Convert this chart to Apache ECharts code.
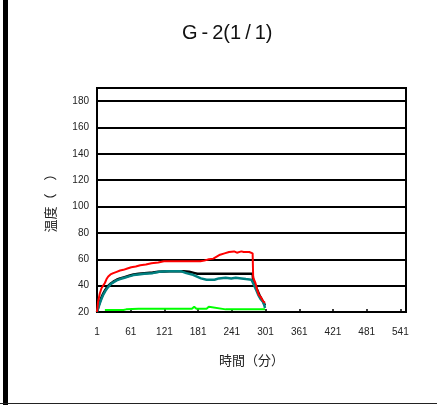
<!DOCTYPE html>
<html>
<head>
<meta charset="utf-8">
<script src="https://cdn.jsdelivr.net/npm/echarts@6/dist/echarts.min.js"></script>
<style>
html,body{margin:0;padding:0;background:#fff;}
#chart{width:437px;height:405px;}
</style>
</head>
<body>
<div id="chart"></div>
<script>
// Data (time in minutes, temperature)
const titleText = 'G\u2009-\u20092(1\u2009/\u20091)';
const xAxisName = '時間（分）';
const yAxisName = '温度（　）';
const xTickValues = [1, 61, 121, 181, 241, 301, 361, 421, 481, 541];
const yTickValues = [20, 40, 60, 80, 100, 120, 140, 160, 180];

const redSeries = [[1,20],[3,28],[6,34],[9,38],[12,40],[15,42],[18,45],[21,47],[25,48.5],[30,49.5],[36,50.5],[42,51.5],[48,52],[55,53],[62,54],[70,54.5],[78,55.5],[88,56],[98,57],[110,57.5],[120,58.5],[150,58.5],[185,58.5],[192,59],[200,60],[208,60.5],[214,62],[220,63.5],[228,64.5],[236,65.5],[245,66],[250,65],[252,66],[258,66],[262,65.5],[265,66],[272,65.5],[278,64.5],[279,46],[283,42],[286,37],[289,33],[293,31],[297,28],[300,27]];
const blackSeries = [[1,20],[4,25],[8,30],[12,34],[16,37],[20,39.5],[25,41.5],[30,43],[36,44.5],[42,45.5],[50,46.5],[58,47.5],[66,48.5],[75,49],[85,49.5],[100,50],[110,50.5],[130,51],[155,51],[165,50.5],[175,49.5],[180,49],[278,49],[279,44],[283,40],[287,36],[291,32],[295,29],[298,27],[300,25]];
const tealSeries = [[1,20],[4,24],[8,29],[12,33],[16,36],[20,38.5],[25,41],[30,42.5],[36,44],[42,45],[50,46],[58,47],[66,48],[75,48.5],[85,49],[100,49.5],[112,50.5],[125,51],[150,51],[160,49.5],[170,48.5],[178,47],[186,45.5],[196,44.5],[210,44.5],[218,45.5],[230,46],[240,45.5],[248,46],[258,45.5],[266,45],[276,44.5],[278,43],[281,40],[284,37],[288,33],[292,30],[296,28],[299,25],[300,23]];
const greenSeries = [[15,21.5],[20,21.5],[48,21.5],[50,23],[53,22],[75,22.5],[100,22.5],[170,22.5],[174,24],[178,22.5],[196,22.5],[200,24],[203,22.5],[230,22],[300,22]];

const chart = echarts.init(document.getElementById('chart'), null, {renderer: 'canvas'});
const labelFont = {fontFamily: '"Liberation Sans", Arial, sans-serif', fontSize: 10, color: '#222'};
const cjkFont = '"Noto Sans CJK JP", "Noto Sans CJK SC", sans-serif';

chart.setOption({
  animation: false,
  backgroundColor: '#fff',
  title: {
    text: titleText,
    left: 177,
    top: 18,
    textStyle: {fontFamily: '"Liberation Sans", Arial, sans-serif', fontSize: 20, fontWeight: 'normal', color: '#111'}
  },
  grid: {
    left: 97, right: 31, top: 88, bottom: 93,
    show: true, borderColor: '#000', borderWidth: 2, backgroundColor: 'transparent'
  },
  xAxis: {
    type: 'value',
    min: 1, max: 551, interval: 60,
    name: xAxisName,
    nameLocation: 'middle',
    nameGap: 42,
    nameTextStyle: {fontFamily: cjkFont, fontSize: 13, color: '#222'},
    axisLine: {show: true, lineStyle: {color: '#000', width: 2}},
    axisTick: {show: true, inside: true, length: 3, lineStyle: {color: '#000', width: 1.5}},
    axisLabel: Object.assign({margin: 15, formatter: function(v){ return xTickValues.indexOf(v) >= 0 ? String(v) : ''; }}, labelFont),
    splitLine: {show: false}
  },
  yAxis: {
    type: 'value',
    min: 20, max: 190, interval: 20,
    name: yAxisName,
    nameLocation: 'middle',
    nameGap: 40,
    nameRotate: 90,
    nameTextStyle: {fontFamily: cjkFont, fontSize: 13, color: '#222'},
    axisLine: {show: true, lineStyle: {color: '#000', width: 2}},
    axisTick: {show: false},
    axisLabel: Object.assign({margin: 8, formatter: function(v){ return yTickValues.indexOf(v) >= 0 ? String(v) : ''; }}, labelFont),
    splitLine: {show: true, lineStyle: {color: '#000', width: 2}}
  },
  series: [
    {type: 'line', data: blackSeries, showSymbol: false, lineStyle: {color: '#000', width: 2.5}, itemStyle: {color: '#000'}},
    {type: 'line', data: tealSeries, showSymbol: false, lineStyle: {color: '#008080', width: 2.5}, itemStyle: {color: '#008080'}},
    {type: 'line', data: greenSeries, showSymbol: false, lineStyle: {color: '#00ff00', width: 2}, itemStyle: {color: '#00ff00'}},
    {type: 'line', data: redSeries, showSymbol: false, lineStyle: {color: '#ff0000', width: 2}, itemStyle: {color: '#ff0000'}}
  ],
  graphic: [
    {type: 'rect', left: 3, top: 0, shape: {width: 5, height: 405}, style: {fill: '#000'}, silent: true},
    {type: 'rect', left: 0, top: 403, shape: {width: 437, height: 1}, style: {fill: '#222'}, silent: true}
  ]
});
</script>
</body>
</html>
